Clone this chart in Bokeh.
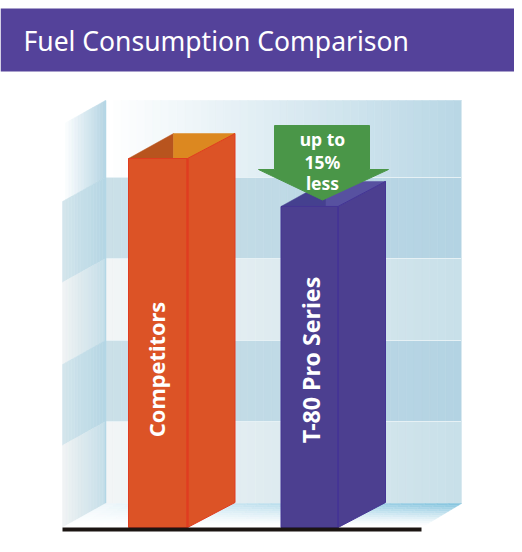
from bokeh.plotting import figure
from bokeh.embed import file_html
from bokeh.resources import INLINE
from bokeh.core.properties import value

title = "Fuel Consumption Comparison"
categories = ["Competitors", "T-80 Pro Series"]
values = [100, 87]
callout = ["up to", "15%", "less"]
front_colors = ["#dc5326", "#4c3f90"]
edge_colors = ["#e03c20", "#443594"]
top_dark = ["#b8541e", "#45408f"]
top_light = ["#dc8820", "#5751a0"]
label_px = [(156, 369, "21.8px"), (310.5, 359.5, "23.2px")]
bar_widths = [59, 57]
bands = [(100, 177, "#ffffff", "#b9d7e5"), (177, 258, "#cbe0e8", "#b3d3e3"),
         (258, 340, "#f2f5f6", "#c8e0e9"), (340, 421, "#cbe0e8", "#b3d3e3"),
         (421, 503, "#f2f5f6", "#c8e0e9")]

PX = 3.69
BASE = 527
TOP = 0
H = 536
LEFT = 0
W = 514
def Y(px):
    return (BASE - px) / PX

p = figure(width=W, height=H, output_backend="svg", toolbar_location=None,
           x_range=(LEFT, LEFT + W), y_range=(Y(TOP + H), Y(TOP)), min_border=0,
           outline_line_color=None)
p.axis.visible = False
p.grid.visible = False
p.background_fill_color = "white"
p.border_fill_color = "white"

def hex2(c):
    return [int(c[i:i + 2], 16) for i in (1, 3, 5)]
def mix(a, b, t):
    A, B = hex2(a), hex2(b)
    return "#%02x%02x%02x" % tuple(round(A[i] + (B[i] - A[i]) * t) for i in range(3))

def poly(pts, color, line=None, lw=1):
    p.patch([q[0] for q in pts], [Y(q[1]) for q in pts], fill_color=color,
            line_color=line or color, line_width=lw)

# header
p.quad(left=0, right=W + 10, top=Y(8), bottom=Y(71), fill_color="#54429a", line_color=None)
p.text(x=[23], y=[Y(40)], text=[title], text_color="white", text_font=value("Noto Sans"),
       text_font_size="26.5px", text_baseline="middle", text_align="left")

# back wall, in strips
N = 45
WL, WR = 105, 461
for top, bot, c0, c1 in bands:
    for i in range(N):
        x0 = WL + (WR - WL) * i / N
        x1 = WL + (WR - WL) * (i + 1) / N
        col = mix(c0, c1, i / (N - 1))
        p.quad(left=x0, right=x1, top=Y(top), bottom=Y(bot), fill_color=col, line_color=col, line_width=0.6)
for top, *_ in bands[1:]:
    p.segment(x0=[WL], x1=[WR], y0=[Y(top)], y1=[Y(top)], line_color="#e6f1f5", line_width=1)
p.segment(x0=[WR], x1=[WR], y0=[Y(100)], y1=[Y(503)], line_color="#d9e9f0", line_width=1)

# left wall
LL = 62
SK = 24
M = 14
left_bands = [(100, "#ffffff", "#b7d6e4"), (177, "#d3e5ec", "#b5d6e4"), (258, "#f0f3f4", "#c5dee8"),
              (340, "#d3e5ec", "#b5d6e4"), (421, "#f0f3f4", "#c5dee8")]
edges = [100, 177, 258, 340, 421, 503]
for k, (_, c0, c1) in enumerate(left_bands):
    for i in range(M):
        xa = LL + (WL - LL) * i / M
        xb = LL + (WL - LL) * (i + 1) / M
        fa = SK * (WL - xa) / (WL - LL)
        fb = SK * (WL - xb) / (WL - LL)
        col = mix(c0, c1, i / (M - 1))
        poly([(xa, edges[k] + fa), (xb, edges[k] + fb), (xb, edges[k + 1] + fb), (xa, edges[k + 1] + fa)], col, col, 0.5)
p.segment(x0=[WL], x1=[WL], y0=[Y(100)], y1=[Y(503)], line_color="#b3d7e6", line_width=1.5)

# floor
R, C = 12, 30
for r in range(R):
    ya, yb = 503 + 24 * r / R, 503 + 24 * (r + 1) / R
    for c in range(C):
        fa, fb = (ya - 503) / 24, (yb - 503) / 24
        la, lb = WL - 43 * fa, WL - 43 * fb
        ra, rb = WR - 40 * fa, WR - 40 * fb
        s0, s1 = c / C, (c + 1) / C
        strength = (1 - r / (R - 1)) ** 1.3 * (0.15 + 0.85 * s0)
        col = mix("#ffffff", "#84c4de", strength)
        poly([(la + (ra - la) * s0, ya), (la + (ra - la) * s1, ya),
              (lb + (rb - lb) * s1, yb), (lb + (rb - lb) * s0, yb)], col, col, 0.4)

# bars
FIRST, STEP, DX, DY = 128, 152.5, 47.5, 25
for i, v in enumerate(values):
    x0 = FIRST + STEP * i
    x1 = x0 + bar_widths[i]
    x2 = x1 + DX
    xb = x0 + 45
    yf, yb = v, v + DY / PX
    dy = DY / PX
    p.patch([x1, x2, x2, x1], [0, dy, yb, yf], fill_color=front_colors[i], line_color=edge_colors[i], line_width=1)
    p.patch([x0, xb, xb], [yf, yb, yf], fill_color=top_dark[i], line_color=top_dark[i], line_width=0.5)
    p.patch([xb, x2, x1, xb], [yb, yb, yf, yf], fill_color=top_light[i], line_color=top_light[i], line_width=0.5)
    p.line([x1, x2], [yf, yb], line_color=edge_colors[i], line_width=1)
    p.quad(left=x0, right=x1, top=yf, bottom=0, fill_color=front_colors[i], line_color=edge_colors[i], line_width=1)
    p.segment(x0=[x1], x1=[x1], y0=[0], y1=[yf], line_color=edge_colors[i], line_width=2.5 if i == 0 else 1.5)
    lx, ly, ls = label_px[i]
    p.text(x=[lx], y=[Y(ly)], text=[categories[i]], angle=1.5708,
           text_color="white", text_font=value("Noto Sans"), text_font_style="bold",
           text_font_size=ls, text_align="center", text_baseline="middle")

# arrow
poly([(274, 125), (369, 125), (369, 169), (388, 169), (322, 199.5), (258, 169), (274, 169)], "#4a9648")
for t, yy in zip(callout, (138, 161, 182)):
    p.text(x=[322], y=[Y(yy)], text=[t], text_color="white", text_font=value("Noto Sans"), text_font_style="bold",
           text_font_size="17.5px", text_align="center", text_baseline="middle")

# baseline
p.quad(left=62, right=421, top=Y(527), bottom=Y(531), fill_color="#1b1512", line_color=None)

open("out.html", "w").write(file_html(p, INLINE))
